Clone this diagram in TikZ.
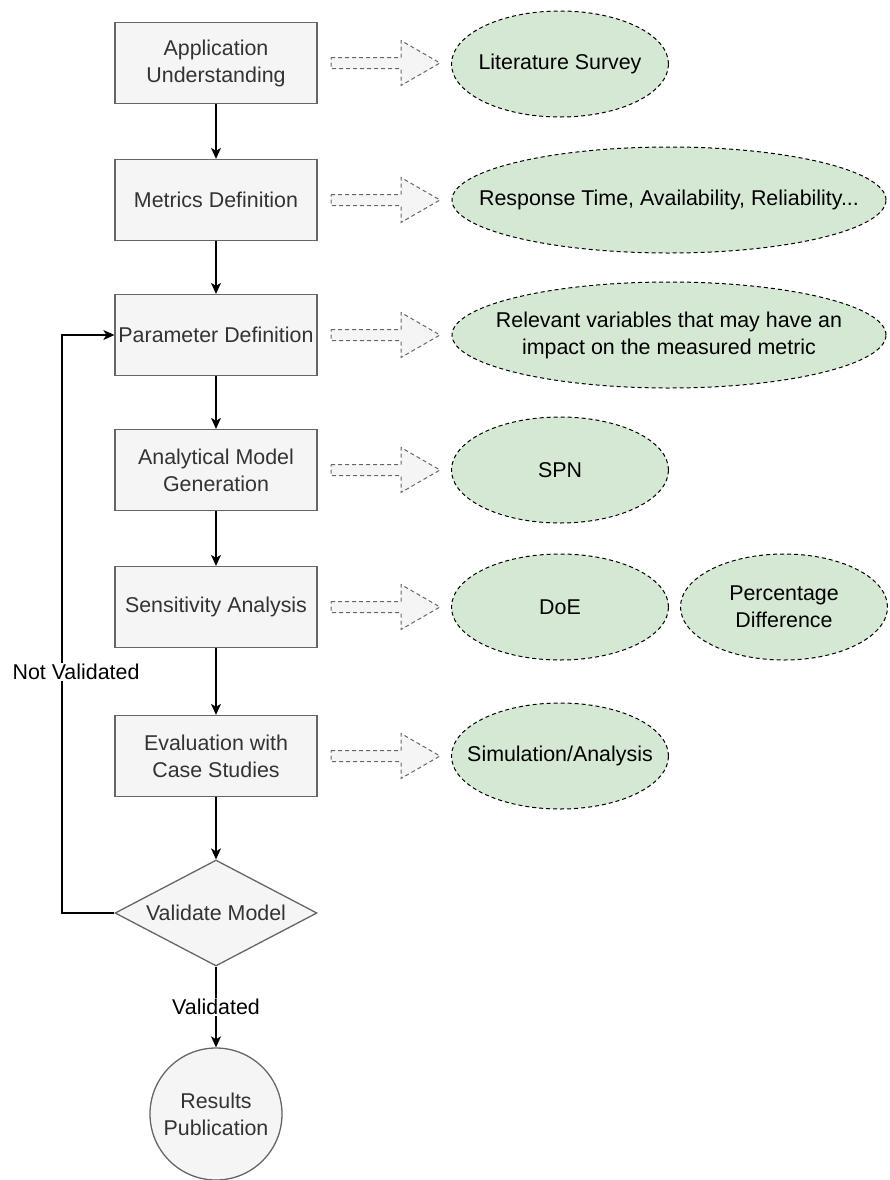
\documentclass[tikz,border=0pt]{standalone}
\usepackage{fontspec}
\setmainfont{Liberation Sans}
\usetikzlibrary{shapes.geometric,arrows.meta}
\definecolor{boxfill}{HTML}{F5F5F5}
\definecolor{boxdraw}{HTML}{666666}
\definecolor{boxtext}{HTML}{333333}
\definecolor{ellfill}{HTML}{D5E8D4}
\begin{document}
\begin{tikzpicture}[x=1bp,y=-1bp,
  every node/.style={font=\fontsize{21.4bp}{27bp}\selectfont},
  procbox/.style={draw=boxdraw, fill=boxfill, text=boxtext, line width=1.3bp,
    minimum width=202bp, minimum height=81bp, align=center, inner sep=0pt},
  oval/.style={ellipse, draw=black, dash pattern=on 4bp off 3bp, fill=ellfill,
    line width=1bp, inner sep=0pt},
  ovaltext/.style={align=center, inner sep=0pt, text=black},
  blkarrow/.style={draw=boxdraw, dash pattern=on 4bp off 3bp, fill=boxfill, line width=1bp},
  conn/.style={draw=black, line width=1.3bp, -{Stealth[length=11bp,width=10bp,inset=3bp]}},
  lbl/.style={fill=white, inner sep=1bp, text=black}
]
\useasboundingbox (0,0) rectangle (890,1180);

% process boxes
\node[procbox] (b1) at (216,63) {Application\\Understanding};
\node[procbox] (b2) at (216,200) {Metrics Definition};
\node[procbox] (b3) at (216,335) {Parameter Definition};
\node[procbox] (b4) at (216,470) {Analytical Model\\Generation};
\node[procbox] (b5) at (216,607) {Sensitivity Analysis};
\node[procbox] (b6) at (216,756) {Evaluation with\\Case Studies};
\node[diamond, draw=boxdraw, fill=boxfill, text=boxtext, line width=1.3bp,
  minimum width=202bp, minimum height=106bp, inner sep=0pt, aspect=1.9] (dec) at (216,913) {Validate Model};
\node[circle, draw=boxdraw, fill=boxfill, text=boxtext, line width=1.3bp,
  minimum size=132bp, inner sep=0pt, align=center] (res) at (216,1114) {Results\\Publication};

% block arrows
\foreach \yy in {63,200,335,470,607,756}{
  \draw[blkarrow] (331,\yy-5.5) -- (401,\yy-5.5) -- (401,\yy-22.5) -- (440,\yy)
    -- (401,\yy+22.5) -- (401,\yy+5.5) -- (331,\yy+5.5) -- cycle;
}

% ellipses
\node[oval, minimum width=217bp, minimum height=106bp] (e1) at (560,64) {};
\node[ovaltext] (t1) at (e1) {Literature Survey};
\node[oval, minimum width=434bp, minimum height=106bp] (e2) at (669,200) {};
\node[ovaltext] (t2) at (e2) {Response Time, Availability, Reliability...};
\node[oval, minimum width=434bp, minimum height=106bp] (e3) at (669,335) {};
\node[ovaltext] (t3) at (e3) {Relevant variables that may have an\\impact on the measured metric};
\node[oval, minimum width=217bp, minimum height=106bp] (e4) at (560,470) {};
\node[ovaltext] (t4) at (e4) {SPN};
\node[oval, minimum width=217bp, minimum height=106bp] (e5) at (560,607) {};
\node[ovaltext] (t5) at (e5) {DoE};
\node[oval, minimum width=207bp, minimum height=106bp] (e6) at (784,607) {};
\node[ovaltext] (t6) at (e6) {Percentage\\Difference};
\node[oval, minimum width=217bp, minimum height=106bp] (e7) at (560,756) {};
\node[ovaltext] (t7) at (e7) {Simulation/Analysis};

% connectors
\draw[conn] (b1) -- (b2);
\draw[conn] (b2) -- (b3);
\draw[conn] (b3) -- (b4);
\draw[conn] (b4) -- (b5);
\draw[conn] (b5) -- (b6);
\draw[conn] (b6) -- (dec);
\draw[conn] (dec) -- node[lbl, pos=0.5] {Validated} (res);
\coordinate (fb) at (62,913);
\draw[conn] (dec.west) -- (fb) |- (b3.west);
\node[lbl] (nv) at (76,672) {Not Validated};
\end{tikzpicture}
\end{document}
